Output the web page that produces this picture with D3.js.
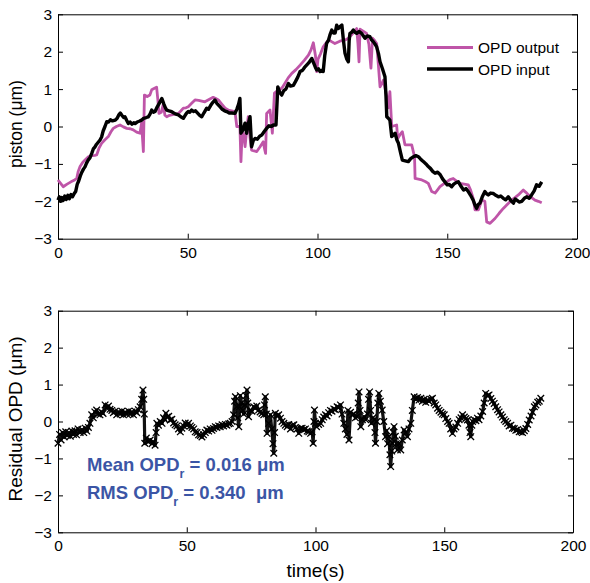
<!DOCTYPE html>
<html>
<head>
<meta charset="utf-8">
<script src="https://cdn.jsdelivr.net/npm/d3@7"></script>
<style>
  body { margin: 0; background: #fff; }
  svg text { font-family: "Liberation Sans", Arial, Helvetica, sans-serif; }
</style>
</head>
<body>
<div id="chart"></div>
<script>
// OPD input (black): [time s, piston um]
var opdInput = [[0,-1.97],[0.5,-1.88],[1,-2.0],[1.5,-1.9],[2,-1.98],[2.6,-1.86],[3.2,-1.95],[3.8,-1.84],[4.4,-1.93],[5,-1.82],[5.6,-1.88],[6.2,-1.8],[6.8,-1.74],[7.4,-1.55],[8,-1.45],[8.6,-1.32],[9.2,-1.22],[9.8,-1.14],[10.4,-1.08],[11,-0.98],[11.6,-0.9],[12.3,-0.84],[13,-0.72],[13.6,-0.6],[14.2,-0.55],[14.8,-0.48],[15.5,-0.42],[16.2,-0.36],[16.8,-0.28],[17.4,-0.12],[18.1,0.0],[18.8,0.13],[19.5,0.12],[20.2,0.18],[21,0.15],[22,0.17],[22.8,0.22],[23.5,0.32],[24,0.36],[24.6,0.3],[25.3,0.24],[25.8,0.26],[26.5,0.16],[27.1,0.08],[27.8,0.12],[28.5,0.06],[29.2,0.1],[29.7,0.08],[30.5,0.12],[31.3,0.14],[32.2,0.17],[33,0.22],[34,0.24],[34.8,0.26],[35.5,0.34],[36.1,0.44],[36.8,0.38],[37.4,0.4],[38.2,0.52],[39,0.62],[40,0.75],[40.8,0.6],[41.4,0.5],[41.9,0.44],[42.8,0.42],[43.8,0.4],[44.6,0.36],[45.5,0.33],[46.4,0.31],[47.3,0.26],[48.3,0.22],[49,0.3],[49.6,0.36],[50.2,0.4],[50.8,0.38],[51.5,0.44],[52.3,0.4],[53,0.42],[53.8,0.36],[54.6,0.3],[55.4,0.26],[56.2,0.36],[57.3,0.49],[58,0.46],[58.8,0.56],[59.6,0.64],[60.5,0.71],[61.2,0.62],[62.4,0.53],[63.3,0.46],[64.2,0.42],[65,0.4],[66,0.36],[67,0.36],[68.2,0.35],[69,0.48],[69.6,0.6],[70.1,0.75],[70.5,-0.18],[71.2,-0.1],[72.1,0.09],[72.7,-0.18],[73.3,0.06],[74,0.26],[74.6,-0.54],[75.2,-0.38],[75.9,-0.32],[76.8,-0.34],[77.7,-0.26],[78.5,-0.23],[79.4,-0.14],[80.4,-0.05],[81.3,0.02],[82.2,0.0],[83,0.04],[84,0.04],[84.7,1.06],[85.4,0.92],[86.2,0.84],[87,0.96],[87.8,1.0],[88.8,1.15],[89.6,1.08],[90.7,1.1],[91.5,1.2],[92.4,1.32],[93.3,1.47],[94.2,1.5],[95,1.58],[95.8,1.64],[96.6,1.7],[97.2,1.76],[97.8,1.82],[98.5,1.7],[99.2,1.58],[99.7,1.51],[100.4,1.54],[101,1.47],[101.6,1.5],[102.2,1.47],[102.8,1.9],[103.5,2.22],[104.2,2.3],[104.8,2.45],[105.5,2.58],[106.2,2.5],[106.8,2.5],[107.4,2.71],[108,2.62],[108.7,2.67],[109.4,2.71],[110,2.3],[110.6,1.96],[111.3,1.8],[111.9,1.73],[112.2,2.3],[112.5,2.49],[113.2,2.52],[113.8,2.58],[114.5,2.52],[115.1,2.49],[116,2.54],[117,2.49],[117.7,2.42],[118.3,2.36],[119.2,2.42],[120.2,2.4],[120.8,2.32],[121.5,2.27],[122.2,2.2],[122.8,2.13],[123.5,1.95],[124.1,1.73],[125,1.55],[126,1.33],[126.4,0.8],[126.7,0.26],[127.3,0.22],[127.9,0.17],[128.6,-0.27],[129.3,-0.22],[129.9,-0.18],[130.6,-0.36],[131.2,-0.45],[132,-0.7],[132.7,-0.9],[133.8,-0.92],[135,-0.94],[135.9,-0.86],[136.9,-0.81],[137.9,-0.78],[138.9,-0.81],[139.6,-0.86],[140.2,-0.9],[141,-0.95],[141.8,-1.0],[142.7,-1.07],[143.5,-1.12],[144.4,-1.2],[145.3,-1.25],[146.3,-1.22],[147.3,-1.29],[148.2,-1.4],[149.1,-1.48],[150,-1.56],[150.8,-1.55],[151.7,-1.61],[152.5,-1.54],[153.4,-1.5],[154.3,-1.48],[155.3,-1.6],[156.3,-1.7],[157.2,-1.66],[158.1,-1.74],[159,-1.84],[160,-1.97],[160.7,-2.1],[161.3,-2.19],[162,-2.08],[162.6,-2.05],[163.5,-1.88],[164.5,-1.74],[165.2,-1.8],[165.8,-1.83],[166.7,-1.78],[167.7,-1.79],[168.7,-1.84],[169.7,-1.88],[170.6,-1.86],[171.6,-1.92],[172.5,-1.96],[173.5,-1.88],[174.5,-1.98],[175.5,-2.05],[176.2,-1.94],[176.8,-1.97],[177.7,-2.02],[178.7,-2.0],[179.7,-1.92],[180.7,-1.88],[181.6,-1.92],[182.5,-1.83],[183.5,-1.72],[184.4,-1.56],[185.4,-1.6],[186.4,-1.48]];

// OPD output (magenta)
var opdOutput = [[0,-1.43],[1,-1.52],[2,-1.61],[3.5,-1.54],[5,-1.48],[6.2,-1.44],[7.2,-1.39],[7.8,-1.2],[8.5,-1.07],[9.5,-0.96],[10.6,-0.88],[11.7,-0.81],[13,-0.78],[14.2,-0.77],[14.9,-0.76],[15.8,-0.58],[16.8,-0.45],[18,-0.36],[19.4,-0.27],[20.4,-0.14],[21.3,-0.05],[22.5,0.0],[23.9,0.04],[25.2,-0.01],[26.5,-0.05],[27.8,-0.06],[29,-0.09],[30.3,-0.15],[31.6,-0.18],[32.2,0.09],[32.9,-0.67],[33.3,0.84],[34.4,0.8],[35.4,0.84],[36.1,0.98],[37.2,1.02],[38,1.05],[38.5,0.7],[38.9,0.35],[39.8,0.38],[40.6,0.6],[41.2,0.3],[41.9,0.26],[43,0.3],[44.2,0.32],[45.3,0.33],[46.4,0.35],[47.4,0.42],[48.3,0.49],[49.3,0.5],[50.2,0.53],[51.5,0.62],[52.8,0.71],[54.2,0.7],[55.4,0.68],[56.6,0.66],[58.2,0.72],[59.8,0.78],[60.8,0.75],[61.8,0.71],[63.1,0.6],[64.4,0.49],[65.6,0.44],[66.9,0.42],[68.2,0.4],[68.9,0.0],[70.1,0.0],[70.5,-0.94],[71,-0.09],[71.5,-0.2],[72.1,-0.54],[72.7,-0.1],[73.3,0.26],[74,-0.3],[74.6,-0.63],[75.6,-0.65],[76.6,-0.67],[77.8,-0.55],[79.1,-0.41],[79.6,-0.6],[80,-0.72],[80.4,0.35],[81.7,0.44],[82.6,-0.18],[83.4,0.89],[84.5,0.95],[85.5,0.98],[86.5,1.05],[87.4,1.15],[88.7,1.3],[90.1,1.42],[91.7,1.52],[93.3,1.64],[94.9,1.77],[96.5,1.91],[97.5,2.05],[98.4,2.24],[99.2,1.9],[99.7,1.47],[100.2,1.8],[101.2,1.95],[102.2,2.13],[103.2,2.22],[104.2,2.31],[105.4,2.27],[106.7,2.22],[108.6,2.28],[110.6,2.31],[111.9,2.36],[113.5,2.48],[115.1,2.62],[115.6,2.2],[116,1.73],[116.4,2.6],[117.6,2.55],[118.9,2.49],[119.8,2.2],[120.6,1.56],[121.2,2.36],[122,2.3],[122.8,2.22],[123.5,1.6],[124.1,1.06],[124.8,1.15],[125.4,1.24],[126.1,1.0],[126.7,0.8],[127.3,0.5],[127.9,0.93],[128.6,0.0],[129.5,0.02],[130.5,0.04],[130.9,-0.32],[131.8,-0.22],[132.7,-0.14],[133.7,-0.49],[135,-0.49],[136.3,-0.49],[137.4,-0.81],[137.6,-1.39],[138.9,-1.41],[140.2,-1.43],[141.5,-1.47],[142.7,-1.52],[144,-1.74],[145.3,-1.78],[146.2,-1.7],[147.2,-1.61],[148.5,-1.54],[149.8,-1.48],[151,-1.42],[152.3,-1.39],[153.6,-1.46],[154.9,-1.52],[156.5,-1.54],[158.1,-1.56],[159,-1.7],[160,-1.92],[160.7,-2.23],[162,-2.23],[163.3,-1.97],[164.5,-2.0],[165.2,-2.55],[166.5,-2.59],[168.4,-2.46],[170,-2.32],[171.6,-2.19],[173.2,-2.08],[174.8,-1.97],[176.1,-1.9],[177.4,-1.83],[179.3,-1.7],[180.3,-1.76],[181.3,-1.83],[182.5,-1.9],[183.8,-1.97],[185.1,-2.0],[186.4,-2.04]];

// residual OPD (bottom panel)
var residual = [[0,-0.59],[0.6,-0.35],[1.2,-0.5],[1.8,-0.3],[2.4,-0.42],[3,-0.28],[3.6,-0.38],[4.2,-0.3],[4.8,-0.4],[5.4,-0.26],[6,-0.35],[6.6,-0.25],[7.2,-0.36],[7.8,-0.2],[8.6,-0.3],[9.3,-0.22],[10,-0.3],[10.6,-0.18],[11.2,-0.26],[11.8,-0.16],[12.4,-0.05],[13.1,0.18],[13.7,0.1],[14.3,0.26],[15,0.31],[15.6,0.2],[16.3,0.18],[16.9,0.26],[17.5,0.22],[18.3,0.45],[18.9,0.36],[19.6,0.42],[20.2,0.33],[20.9,0.3],[21.5,0.24],[22.2,0.28],[22.8,0.18],[23.5,0.26],[24.2,0.2],[24.8,0.28],[25.4,0.18],[26.1,0.25],[26.7,0.2],[27.4,0.28],[28,0.2],[28.7,0.26],[29.3,0.18],[30,0.28],[30.6,0.24],[31.2,0.32],[31.9,0.4],[32.5,0.6],[33,0.85],[33.3,0.6],[33.5,0.2],[33.7,-0.59],[34.3,-0.45],[35,-0.55],[35.8,-0.5],[36.5,-0.6],[37.1,-0.55],[37.7,-0.64],[38.1,-0.3],[38.4,-0.05],[39,-0.1],[39.7,0.0],[40.4,-0.05],[41,0.1],[41.5,0.05],[41.9,0.22],[42.4,0.12],[43,0.14],[43.6,0.04],[44.2,0.06],[44.9,-0.04],[45.5,-0.09],[46.2,-0.12],[46.8,-0.2],[47.5,-0.28],[48.1,-0.18],[48.8,-0.12],[49.4,-0.04],[50.1,-0.1],[50.7,-0.05],[51.4,-0.12],[52,-0.16],[52.7,-0.2],[53.3,-0.28],[54,-0.3],[54.6,-0.36],[55.3,-0.38],[55.9,-0.42],[56.5,-0.36],[57.2,-0.3],[57.8,-0.23],[58.5,-0.26],[59.1,-0.2],[59.8,-0.24],[60.4,-0.19],[61.1,-0.14],[61.7,-0.16],[62.4,-0.12],[63,-0.14],[63.7,-0.09],[64.3,-0.12],[65,-0.08],[65.6,-0.1],[66.3,-0.06],[66.9,-0.05],[67.6,0.0],[68.2,0.18],[68.6,0.55],[68.9,0.67],[69.4,0.4],[69.8,0.1],[70.2,-0.14],[70.5,0.4],[70.8,0.7],[71.3,0.5],[71.7,0.3],[72.1,0.2],[72.6,0.45],[73,0.7],[73.4,0.85],[73.7,0.5],[74,0.13],[74.6,0.3],[75.3,0.28],[76,0.4],[76.6,0.36],[77.2,0.42],[77.9,0.31],[78.5,0.26],[79.2,0.22],[79.9,0.18],[80.2,0.45],[80.5,0.67],[80.9,0.2],[81.2,-0.32],[81.8,-0.05],[82.5,0.18],[83,-0.2],[83.5,-0.6],[83.8,-0.86],[84.1,-0.3],[84.4,0.22],[85,0.15],[85.7,0.18],[86.4,0.09],[87,0.0],[87.7,-0.05],[88.3,-0.1],[89,-0.14],[89.6,-0.08],[90.3,-0.2],[91,-0.1],[91.6,-0.09],[92.2,-0.16],[92.9,-0.2],[93.5,-0.32],[94.2,-0.19],[94.8,-0.18],[95.5,-0.22],[96.1,-0.2],[96.8,-0.26],[97.4,-0.28],[98.1,-0.32],[98.7,-0.28],[99.1,-0.59],[99.4,0.0],[99.6,0.31],[100,-0.05],[100.4,-0.14],[101.2,-0.08],[102,-0.05],[102.6,0.05],[103.2,0.12],[103.9,0.18],[104.5,0.15],[105.1,0.24],[105.8,0.3],[106.4,0.28],[107.1,0.34],[107.7,0.32],[108.4,0.4],[109,0.38],[109.7,0.45],[110.3,0.2],[111,-0.05],[111.6,-0.2],[112.2,-0.35],[112.6,0.3],[113,-0.5],[113.6,0.25],[114.3,0.18],[114.9,0.2],[115.5,0.1],[116.2,0.13],[116.6,0.5],[116.9,0.8],[117.3,0.3],[117.6,-0.14],[118.2,0.05],[118.9,0.13],[119.5,0.05],[120.2,0.2],[120.6,0.6],[121,0.8],[121.4,0.3],[121.7,-0.05],[122.3,0.1],[122.8,0.05],[123.1,-0.3],[123.3,-0.59],[123.8,0.0],[124.2,0.5],[124.6,0.76],[125.2,0.55],[125.9,0.31],[126.5,0.0],[127.2,-0.41],[127.6,-0.25],[128,-0.6],[128.5,-0.4],[128.9,-0.9],[129.2,-1.22],[129.6,-0.8],[129.9,-0.59],[130.2,-0.3],[130.5,-0.14],[131,-0.4],[131.4,-0.6],[131.8,-0.77],[132.4,-0.6],[133.1,-0.77],[133.7,-0.5],[134.4,-0.23],[135,-0.3],[135.7,-0.41],[136.3,-0.2],[137,-0.05],[137.6,0.3],[138.3,0.67],[138.9,0.6],[139.6,0.65],[140.2,0.58],[140.9,0.63],[141.5,0.55],[142.2,0.6],[142.8,0.52],[143.5,0.58],[144.1,0.55],[144.8,0.6],[145.4,0.63],[146.1,0.5],[146.7,0.45],[147.4,0.36],[148,0.3],[148.7,0.25],[149.3,0.2],[150,0.18],[150.6,0.08],[151.3,0.0],[151.9,-0.05],[152.5,-0.2],[153.2,-0.32],[153.8,-0.2],[154.5,-0.15],[155.2,-0.05],[155.8,0.05],[156.5,0.1],[157.1,0.18],[157.8,0.12],[158.4,0.08],[159,0.04],[159.6,-0.1],[160,-0.3],[160.3,-0.41],[160.7,-0.1],[161,0.0],[161.6,0.05],[162.3,0.02],[162.9,0.09],[163.5,0.05],[164.2,0.15],[164.9,0.27],[165.5,0.5],[166.1,0.76],[166.8,0.7],[167.4,0.72],[168.1,0.62],[168.7,0.55],[169.4,0.49],[170,0.4],[170.7,0.32],[171.3,0.26],[172,0.18],[172.6,0.12],[173.3,0.05],[173.9,0.0],[174.6,-0.05],[175.2,-0.12],[175.9,-0.1],[176.5,-0.18],[177.2,-0.19],[177.8,-0.24],[178.5,-0.22],[179.1,-0.28],[179.8,-0.28],[180.4,-0.3],[181.1,-0.25],[181.7,-0.19],[182.4,-0.08],[183,0.04],[183.7,0.15],[184.3,0.25],[185,0.4],[185.6,0.45],[186.3,0.52],[186.9,0.55],[187.5,0.63]];

var xTicks = [0, 50, 100, 150, 200];
var yTicks = [-3, -2, -1, 0, 1, 2, 3];
var legendNames = ["OPD output", "OPD input"];

var w = 590, h = 583;
var magenta = "#bf55a8";
var statBlue = "#3b55a5";

var svg = d3.select("#chart").append("svg")
    .attr("width", w)
    .attr("height", h);

function panel(left, right, top, bottom) {
    var x = d3.scaleLinear().domain([0, 200]).range([left, right]);
    var y = d3.scaleLinear().domain([-3, 3]).range([bottom, top]);
    var g = svg.append("g");
    var fmt = d3.format("d");

    g.append("g").attr("transform", "translate(0," + bottom + ")")
        .call(d3.axisBottom(x).tickValues(xTicks).tickFormat(fmt).tickSizeInner(-5).tickSizeOuter(0).tickPadding(8));
    g.append("g").attr("transform", "translate(0," + top + ")")
        .call(d3.axisTop(x).tickValues(xTicks).tickSizeInner(-5).tickSizeOuter(0).tickFormat(""));
    g.append("g").attr("transform", "translate(" + left + ",0)")
        .call(d3.axisLeft(y).tickValues(yTicks).tickFormat(fmt).tickSizeInner(-5).tickSizeOuter(0).tickPadding(6));
    g.append("g").attr("transform", "translate(" + right + ",0)")
        .call(d3.axisRight(y).tickValues(yTicks).tickSizeInner(-5).tickSizeOuter(0).tickFormat(""));

    g.selectAll(".tick text").attr("font-size", 15.5).attr("fill", "#000")
        .style("font-family", "'Liberation Sans', Arial, sans-serif");
    g.selectAll(".domain").attr("stroke", "#000");
    g.selectAll(".tick line").attr("stroke", "#000");
    return {x: x, y: y, g: g};
}

// top panel
var p1 = panel(58, 577, 14.3, 238.7);
var line1 = d3.line().x(function (d) { return p1.x(d[0]); }).y(function (d) { return p1.y(d[1]); });

p1.g.append("path").datum(opdOutput)
    .attr("d", line1).attr("fill", "none")
    .attr("stroke", magenta).attr("stroke-width", 2.8).attr("stroke-linejoin", "round");
p1.g.append("path").datum(opdInput)
    .attr("d", line1).attr("fill", "none")
    .attr("stroke", "#000").attr("stroke-width", 3.4).attr("stroke-linejoin", "round");

// legend
var legend = p1.g.append("g");
legendNames.forEach(function (name, i) {
    var ly = 47.5 + i * 21.5;
    legend.append("line")
        .attr("x1", 427).attr("x2", 473).attr("y1", ly).attr("y2", ly)
        .attr("stroke", i === 0 ? magenta : "#000").attr("stroke-width", i === 0 ? 2.8 : 3.4);
    legend.append("text")
        .attr("x", 478).attr("y", ly + 5.5)
        .attr("font-size", 15.5).text(name);
});

svg.append("text")
    .attr("transform", "translate(22,124) rotate(-90)")
    .attr("text-anchor", "middle").attr("font-size", 17.5)
    .text("piston (\u03bcm)");

// bottom panel
var p2 = panel(58, 573, 310.7, 532.3);
var line2 = d3.line().x(function (d) { return p2.x(d[0]); }).y(function (d) { return p2.y(d[1]); });

p2.g.append("path").datum(residual)
    .attr("d", line2).attr("fill", "none")
    .attr("stroke", "#111").attr("stroke-width", 3.2).attr("stroke-linejoin", "round");

var cross = d3.symbol().type(d3.symbolTimes).size(30);
p2.g.selectAll(".mk").data(residual).enter().append("path")
    .attr("class", "mk")
    .attr("d", cross)
    .attr("transform", function (d) { return "translate(" + p2.x(d[0]) + "," + p2.y(d[1]) + ")"; })
    .attr("fill", "none").attr("stroke", "#000").attr("stroke-width", 1.3);

svg.append("text")
    .attr("transform", "translate(22,419) rotate(-90)")
    .attr("text-anchor", "middle").attr("font-size", 19)
    .text("Residual OPD (\u03bcm)");

svg.append("text")
    .attr("x", 315.5).attr("y", 577)
    .attr("text-anchor", "middle").attr("font-size", 19)
    .text("time(s)");

// stats
var stats = [["Mean OPD", " = 0.016 \u03bcm"], ["RMS OPD", " = 0.340  \u03bcm"]];
stats.forEach(function (s, i) {
    var t = svg.append("text")
        .attr("x", 87).attr("y", 471 + i * 28)
        .attr("font-size", 18.5).attr("font-weight", "bold")
        .attr("fill", statBlue)
        .attr("xml:space", "preserve")
        .style("white-space", "pre");
    t.append("tspan").text(s[0]);
    t.append("tspan").attr("dy", 7).attr("font-size", 12.5).text("r");
    t.append("tspan").attr("dy", -7).text(s[1]);
});
</script>
</body>
</html>
